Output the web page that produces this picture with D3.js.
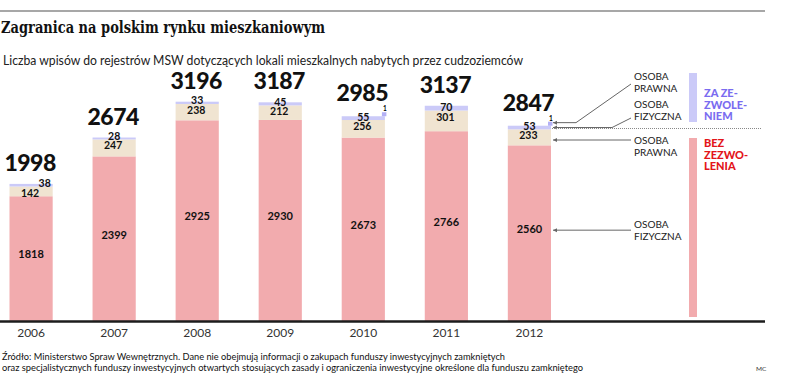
<!DOCTYPE html>
<meta charset="utf-8">
<style>
    body { margin: 0; background: #fff; }
    svg { display: block; }
    .lab { font-family: Lato, "Open Sans", sans-serif; }
</style>
<script src="https://cdn.jsdelivr.net/npm/d3@7"></script>
<body>
<svg></svg>
</body>
<script>

    // dane: liczba wpisow do rejestrow MSW
    var years = ['2006', '2007', '2008', '2009', '2010', '2011', '2012'];
    var bezFizyczna = [1818, 2399, 2925, 2930, 2673, 2766, 2560];
    var bezPrawna = [142, 247, 238, 212, 256, 301, 233];
    var zaFizyczna = [38, 28, 33, 45, 55, 70, 53];
    var zaPrawna = [0, 0, 0, 0, 1, 0, 1];
    var keys = ['bezFizyczna', 'bezPrawna', 'zaFizyczna', 'zaPrawna'];

    var colors = {
        bezFizyczna: '#f2abae',
        bezPrawna: '#f0e4d1',
        zaFizyczna: '#cbcaf8',
        zaPrawna: '#b3b0f5'
    };

    var rows = years.map(function (yr, i) {
        return {
            year: yr,
            bezFizyczna: bezFizyczna[i],
            bezPrawna: bezPrawna[i],
            zaFizyczna: zaFizyczna[i],
            zaPrawna: zaPrawna[i]
        };
    });

    var svg = d3.select('svg').attr('width', 788).attr('height', 378);

    var x = d3.scaleBand().domain(years).range([9.5, 551]).paddingInner(0.48).paddingOuter(0);
    var y = d3.scaleLinear().domain([0, 3196]).range([321, 101.7]);
    var bw = x.bandwidth();

    var stacked = d3.stack().keys(keys)(rows);

    // top rule + title
    svg.append('line')
        .attr('x1', 0).attr('x2', 765).attr('y1', 11).attr('y2', 11)
        .style('stroke', '#8a8a8a').style('stroke-width', 1.5);

    svg.append('text')
        .attr('x', 1).attr('y', 33)
        .attr('textLength', 324).attr('lengthAdjust', 'spacingAndGlyphs')
        .style('font', 'bold 17px "DejaVu Serif", serif')
        .style('fill', '#111')
        .text('Zagranica na polskim rynku mieszkaniowym');

    svg.append('text')
        .attr('class', 'lab')
        .attr('x', 3).attr('y', 65)
        .attr('textLength', 520).attr('lengthAdjust', 'spacingAndGlyphs')
        .style('font-size', '12.5px').style('fill', '#222')
        .text('Liczba wpisów do rejestrów MSW dotyczących lokali mieszkalnych nabytych przez cudzoziemców');

    // bars
    var layers = svg.append('g').selectAll('g')
        .data(stacked.slice(0, 3))
        .enter().append('g')
        .style('fill', function (d) { return colors[d.key]; });

    layers.selectAll('rect')
        .data(function (d) { return d; })
        .enter().append('rect')
        .attr('x', function (d) { return x(d.data.year); })
        .attr('width', bw)
        .attr('y', function (d) { return y(d[1]); })
        .attr('height', function (d) { return y(d[0]) - y(d[1]); });

    // tiny squares for "1" (osoba prawna, za zezwoleniem)
    var small = stacked[3].filter(function (d) { return d.data.zaPrawna > 0; });
    svg.append('g').selectAll('rect')
        .data(small)
        .enter().append('rect')
        .attr('x', function (d) { return x(d.data.year) + bw - 3; })
        .attr('y', function (d) { return y(d[0]) - 4; })
        .attr('width', 4.5).attr('height', 4)
        .style('fill', colors.zaPrawna);

    svg.append('g').selectAll('text')
        .data(small)
        .enter().append('text')
        .attr('class', 'lab')
        .attr('x', function (d) { return x(d.data.year) + bw; })
        .attr('y', function (d) { return y(d[0]) - 5; })
        .attr('text-anchor', 'middle')
        .style('font-size', '6.5px').style('font-weight', 'bold')
        .text(function (d) { return d.data.zaPrawna; });

    // value labels inside bars
    var g = svg.append('g').attr('class', 'lab')
        .style('font-weight', 'bold').style('fill', '#111').attr('text-anchor', 'middle');

    rows.forEach(function (r, i) {
        var cx = x(r.year) + bw / 2;
        var s0 = stacked[0][i], s1 = stacked[1][i], s2 = stacked[2][i];
        var total = d3.sum(keys, function (k) { return r[k]; });

        g.append('text')
            .attr('x', cx).attr('y', (y(s0[0]) + y(s0[1])) / 2 - 4)
            .attr('dy', '0.35em')
            .style('font-size', '11px')
            .text(r.bezFizyczna);

        g.append('text')
            .attr('x', cx - 1).attr('y', y(s1[1]) + 10)
            .style('font-size', '10.5px')
            .text(r.bezPrawna);

        var tight = (y(s1[0]) - y(s1[1])) < 12;
        g.append('text')
            .attr('x', tight ? x(r.year) + bw - 8 : cx)
            .attr('y', tight ? y(s2[1]) + 3 : y(s2[0]) + 0.5)
            .style('font-size', '10.5px')
            .text(r.zaFizyczna);

        g.append('text')
            .attr('x', cx - 1).attr('y', y(total) - (r.zaPrawna > 0 ? 15 : 13))
            .style('font-size', '23px').style('font-weight', 900)
            .style('letter-spacing', '-0.5px')
            .text(total);
    });

    // axis
    svg.append('line')
        .attr('x1', 0).attr('x2', 765).attr('y1', 321.5).attr('y2', 321.5)
        .style('stroke', '#1c1c1c').style('stroke-width', 2.5);

    var axis = svg.append('g')
        .attr('transform', 'translate(0,321)')
        .call(d3.axisBottom(x).tickSize(0).tickPadding(7.5));
    axis.select('.domain').remove();
    axis.selectAll('text')
        .style('font-family', 'Lato, sans-serif')
        .style('font-size', '12px')
        .style('fill', '#333');

    // legend at right
    var last = rows.length - 1;
    var ex = x(years[last]) + bw + 2;
    var lx = 634;
    var midZa = (y(stacked[2][last][0]) + y(stacked[2][last][1])) / 2;
    var midBez = (y(stacked[0][last][0]) + y(stacked[0][last][1])) / 2 - 3;
    var leaders = [
        { pts: [[ex, y(stacked[3][last][1]) - 3], [576, y(stacked[3][last][1]) - 3], [lx - 3, 84]], lines: ['OSOBA', 'PRAWNA'], ty: 80 },
        { pts: [[ex, midZa], [612, midZa], [lx - 3, 118]], lines: ['OSOBA', 'FIZYCZNA'], ty: 108 },
        { pts: [[ex, 140], [lx - 3, 140]], lines: ['OSOBA', 'PRAWNA'], ty: 144 },
        { pts: [[ex, midBez], [lx - 3, midBez]], lines: ['OSOBA', 'FIZYCZNA'], ty: 228 }
    ];

    var lg = svg.append('g');
    leaders.forEach(function (d) {
        lg.append('path')
            .attr('d', d3.line()(d.pts))
            .style('fill', 'none').style('stroke', '#666').style('stroke-width', 1);
        var p = d.pts[0];
        lg.append('path')
            .attr('d', 'M' + p[0] + ',' + p[1] + 'l4,-2l0,4z')
            .style('fill', '#666');
        d.lines.forEach(function (t, j) {
            lg.append('text')
                .attr('class', 'lab')
                .attr('x', lx).attr('y', d.ty + j * 12)
                .style('font-size', '10px').style('fill', '#222')
                .text(t);
        });
    });

    // dotted separator
    svg.append('line')
        .attr('x1', 552).attr('x2', 762).attr('y1', 128.5).attr('y2', 128.5)
        .style('stroke', '#888').style('stroke-width', 1).style('stroke-dasharray', '1,1');

    // group bars
    svg.append('rect').attr('x', 689).attr('y', 73).attr('width', 8).attr('height', 49)
        .style('fill', '#cbcaf8');
    svg.append('rect').attr('x', 689).attr('y', 138).attr('width', 8).attr('height', 179)
        .style('fill', '#f2abae');

    [['ZA ZE-', 'ZWOLE-', 'NIEM', '#7a6cf0', 97], ['BEZ', 'ZEZWO-', 'LENIA', '#e3151a', 147]].forEach(function (b) {
        for (var j = 0; j < 3; j++) {
            svg.append('text')
                .attr('class', 'lab')
                .attr('x', 704).attr('y', b[4] + j * 11.5)
                .style('font-size', '11px').style('font-weight', 900)
                .style('fill', b[3])
                .text(b[j]);
        }
    });

    // source
    var src = [
        ['Źródło: Ministerstwo Spraw Wewnętrznych. Dane nie obejmują informacji o zakupach funduszy inwestycyjnych zamkniętych', 503],
        ['oraz specjalistycznych funduszy inwestycyjnych otwartych stosujących zasady i ograniczenia inwestycyjne określone dla funduszu zamkniętego', 581]
    ];
    src.forEach(function (s, j) {
        svg.append('text')
            .attr('class', 'lab')
            .attr('x', 2).attr('y', 360 + j * 11)
            .attr('textLength', s[1]).attr('lengthAdjust', 'spacingAndGlyphs')
            .style('font-size', '9.5px').style('fill', '#111')
            .text(s[0]);
    });
    svg.append('text')
        .attr('class', 'lab')
        .attr('x', 756).attr('y', 371)
        .style('font-size', '6.5px').style('fill', '#333')
        .text('MC');

</script>
